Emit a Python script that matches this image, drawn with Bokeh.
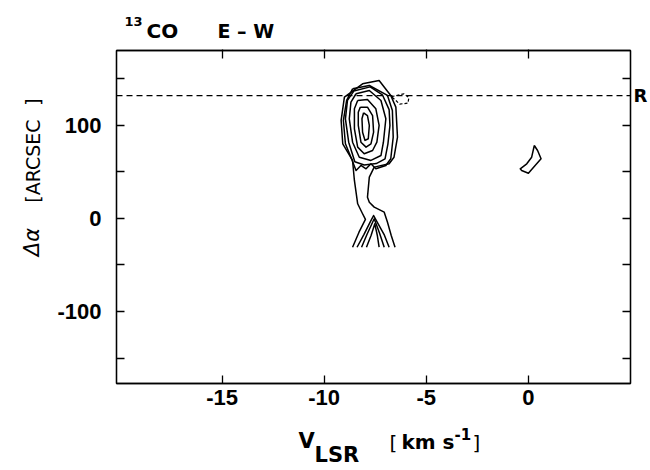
import numpy as np
from bokeh.plotting import figure
from bokeh.layouts import column, row
from bokeh.models import Range1d, LinearAxis, FixedTicker, Span
from bokeh.core.properties import value
from bokeh.embed import file_html
from bokeh.resources import INLINE

# ---------------- data ----------------
x_ticks = [-15, -10, -5, 0]
x_tick_labels = ["-15", "-10", "-5", "0"]
y_ticks = [-100, 0, 100]
y_tick_labels = ["-100", "0", "100"]
y_minor = [-150, -50, 50, 150]
ref_offset = 132          # dashed reference line "R" (arcsec)
ref_label = "R"

# outermost contour, open at the lower map edge (km/s, arcsec)
outer_v = [-8.61, -8.30, -7.98, -8.12, -8.36, -8.52, -8.61, -9.09, -9.17, -9.01, -8.12,
           -7.31, -6.74, -6.49, -6.41, -6.58, -6.82, -7.55, -7.79, -7.88, -7.79, -7.55,
           -7.06, -6.90, -6.72, -6.53]
outer_a = [-30.9, -15.0, -1.0, 5.1, 15.8, 40.9, 62.4, 80.3, 105.4, 130.4, 144.8,
           148.4, 132.3, 119.7, 87.4, 65.9, 58.8, 55.2, 44.4, 22.9, 17.5, 12.2,
           6.8, -4.0, -18.0, -30.9]

# closed contours of the main clump, outer to inner
c6_v = [-8.61, -7.79, -6.90, -6.66, -6.62, -6.74, -6.98, -7.47, -7.71, -7.95, -8.20, -8.44, -8.69, -8.96, -9.06, -8.90]
c6_a = [139.4, 143.0, 132.3, 116.1, 87.4, 64.2, 57.0, 53.4, 58.8, 53.4, 57.0, 51.6, 65.9, 80.3, 105.4, 126.9]
c5_v = [-8.55, -7.75, -7.15, -6.82, -6.78, -6.88, -7.02, -7.45, -8.04, -8.50, -8.80, -8.96, -8.86]
c5_a = [137.0, 141.5, 133.0, 117.0, 100.0, 80.0, 64.0, 59.0, 57.5, 61.0, 82.0, 107.0, 127.0]
c4_v = [-8.44, -7.79, -7.22, -6.98, -7.10, -7.22, -7.71, -8.28, -8.61, -8.77, -8.69]
c4_a = [134.1, 137.6, 126.9, 107.2, 82.0, 67.7, 62.4, 65.9, 82.0, 107.2, 125.1]
c3_v = [-8.36, -7.88, -7.47, -7.31, -7.42, -7.63, -8.04, -8.36, -8.52, -8.52]
c3_a = [126.9, 127.9, 117.9, 100.0, 82.0, 73.1, 69.6, 76.7, 96.4, 117.9]
c2_v = [-8.23, -7.88, -7.63, -7.58, -7.71, -7.95, -8.20, -8.33, -8.33]
c2_a = [119.7, 119.7, 110.7, 92.8, 80.3, 76.7, 82.0, 100.0, 114.3]
c1_v = [-8.07, -7.88, -7.79, -7.84, -8.00, -8.12, -8.15]
c1_a = [113.6, 110.7, 100.0, 85.7, 83.9, 92.8, 107.2]

# southern clump, open at the lower map edge
s1_v = [-8.39, -8.05, -7.75, -7.58, -7.35, -7.05, -6.82]
s1_a = [-30.9, -17.0, -4.0, 3.2, -6.0, -18.0, -30.9]
s2_v = [-8.17, -7.90, -7.55, -7.30, -7.06]
s2_a = [-30.9, -17.0, -0.3, -15.0, -30.9]
s3_v = [-7.93, -7.70, -7.52, -7.40, -7.31]
s3_a = [-30.9, -18.0, -5.7, -18.0, -30.9]

# small feature near 0 km/s
f_v = [0.29, 0.45, 0.62, 0.33, 0.00, -0.33, -0.40, -0.08, 0.16]
f_a = [78.5, 73.1, 64.2, 57.0, 48.7, 51.6, 53.4, 58.8, 65.9]

# dashed (negative) contour
n_v = [-6.70, -6.10, -5.85, -5.90, -6.30]
n_a = [131.0, 134.0, 130.0, 124.0, 123.0]

# ---------------- layout ----------------
W = 650
TOP_H, BOT_H, LEFT_W = 46, 50, 45
MAIN_W, MAIN_H = W - LEFT_W, 374
X0, X1 = -20.17, 5.0
Y0, Y1 = -177.4, 180.6
BOLD = "DejaVu Sans"
TICKF = "Liberation Sans"
SHIFT = 0.3   # empirical baseline correction of text glyphs (fraction of font size)
LW = 1.5


def text_fig(w, h):
    return figure(width=w, height=h, output_backend="svg", toolbar_location=None,
                  title=None, x_range=Range1d(0, w), y_range=Range1d(0, h),
                  x_axis_type=None, y_axis_type=None, min_border=0,
                  outline_line_color=None, background_fill_color="white",
                  border_fill_color="white")


# main plot
p = figure(width=MAIN_W, height=MAIN_H, output_backend="svg", toolbar_location=None,
           title=None, x_range=Range1d(X0, X1), y_range=Range1d(Y0, Y1),
           min_border_left=71, min_border_right=18, min_border_top=4, min_border_bottom=37,
           background_fill_color="white", border_fill_color="white")
p.xgrid.visible = False
p.ygrid.visible = False
p.outline_line_color = "black"
p.outline_line_width = 1.3

bottom_ax = p.below[0]
left_ax = p.left[0]
top_ax = LinearAxis()
right_ax = LinearAxis()
p.add_layout(top_ax, "above")
p.add_layout(right_ax, "right")

bottom_ax.ticker = FixedTicker(ticks=x_ticks)
bottom_ax.major_label_overrides = dict(zip(x_ticks, x_tick_labels))
# top axis: unlabelled ticks only (its single major tick lies off the plot)
top_ax.ticker = FixedTicker(ticks=[X1 + 100], minor_ticks=x_ticks)
left_ax.ticker = FixedTicker(ticks=y_ticks, minor_ticks=y_minor)
left_ax.major_label_overrides = dict(zip(y_ticks, y_tick_labels))
right_ax.ticker = FixedTicker(ticks=[ref_offset], minor_ticks=sorted(y_ticks + y_minor))
right_ax.major_label_overrides = {ref_offset: ref_label}

for ax in [bottom_ax, top_ax, left_ax, right_ax]:
    ax.axis_line_color = "black"
    ax.axis_line_width = 1.3
    ax.major_tick_line_color = "black"
    ax.major_tick_line_width = 1.3
    ax.minor_tick_line_color = "black"
    ax.minor_tick_line_width = 1.3
    ax.major_tick_in = 8
    ax.major_tick_out = 0
    ax.minor_tick_in = 8
    ax.minor_tick_out = 0
    ax.major_label_text_font = TICKF
    ax.major_label_text_font_style = "bold"
    ax.major_label_text_font_size = "22px"
    ax.major_label_text_color = "black"
top_ax.major_tick_out = 1
top_ax.minor_tick_out = 1
top_ax.major_label_standoff = 0
bottom_ax.major_label_standoff = 6
left_ax.major_label_standoff = 15
right_ax.major_tick_in = 0
right_ax.major_label_text_font = BOLD
right_ax.major_label_text_font_size = "18px"
right_ax.major_label_standoff = 3

# contours
def closed(v, a):
    return list(v) + [v[0]], list(a) + [a[0]]

xs, ys = [outer_v, s1_v, s2_v, s3_v], [outer_a, s1_a, s2_a, s3_a]
for v, a in [(c6_v, c6_a), (c5_v, c5_a), (c4_v, c4_a), (c3_v, c3_a),
             (c2_v, c2_a), (c1_v, c1_a), (f_v, f_a)]:
    cv, ca = closed(v, a)
    xs.append(cv)
    ys.append(ca)
p.multi_line(xs=xs, ys=ys, line_color="black", line_width=LW, line_join="round")
nv, na = closed(n_v, n_a)
p.line(nv, na, line_color="black", line_width=1.2, line_dash="3 2")

p.add_layout(Span(location=ref_offset, dimension="width", line_color="black",
                  line_width=1.2, line_dash="6 4"))


def put(fig, x, y, text, size, style="bold", rotated=False):
    """x, y: wanted baseline start in the strip's own pixels (y from the strip's bottom)."""
    fs = float(size.replace("px", ""))
    if rotated:
        x -= SHIFT * fs
    else:
        y += SHIFT * fs
    fig.text(x=[x], y=[y], text=[text], text_font=value(BOLD), text_font_size=size,
             text_font_style=style, text_color="black",
             angle=(np.pi / 2 if rotated else 0.0),
             text_align="left", text_baseline="alphabetic")


# title strip
top = text_fig(W, TOP_H)
put(top, 124, TOP_H - 25, "13", "13px")
put(top, 146, TOP_H - 36, "CO", "20px")
put(top, 217, TOP_H - 36, "E \u2013 W", "19px")

# y-axis label strip (rotated, reads bottom to top)
left = text_fig(LEFT_W, MAIN_H)
base_y = TOP_H + MAIN_H
put(left, 38, base_y - 277, "\u0394\u03b1", "21px", style="italic", rotated=True)
put(left, 38, base_y - 217, "[ARCSEC", "19px", style="normal", rotated=True)
put(left, 38, base_y - 108, "]", "19px", style="normal", rotated=True)

# x-axis label strip
bot = text_fig(W, BOT_H)
H = TOP_H + MAIN_H + BOT_H
put(bot, 298, H - 447, "V", "21px")
put(bot, 314, H - 461, "LSR", "21px")
put(bot, 389, H - 448, "[", "20px", style="normal")
put(bot, 401, H - 447, "km s", "20px")
put(bot, 454, H - 438, "-1", "15px")
put(bot, 472, H - 448, "]", "20px", style="normal")

layout = column(top, row(left, p), bot)
open("out.html", "w").write(file_html(layout, INLINE))
